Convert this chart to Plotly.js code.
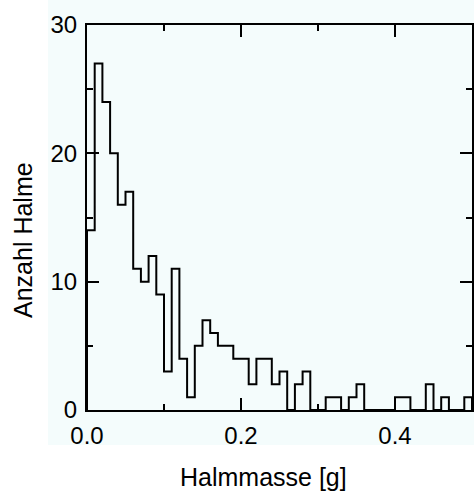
<!DOCTYPE html>
<html>
<head>
<meta charset="utf-8">
<script src="https://cdn.plot.ly/plotly-3.0.1.min.js"></script>
<style>html,body{margin:0;padding:0;background:#fff;}#chart{width:474px;height:491px;}</style>
</head>
<body>
<div id="chart"></div>
<script>
// Histogram of Halmmasse [g], bin width 0.01 g, from 0 to 0.5
const binStart = 0.0;
const binWidth = 0.01;
const counts = [14, 27, 24, 20, 16, 17, 11, 10, 12, 9,
                3, 11, 4, 1, 5, 7, 6, 5, 5, 4,
                4, 2, 4, 4, 2, 3, 0, 2, 3, 0,
                0, 1, 1, 0, 1, 2, 0, 0, 0, 0,
                1, 1, 0, 0, 2, 0, 1, 0, 0, 1];
const xTickVals = [0, 0.2, 0.4];
const xTickText = ["0.0", "0.2", "0.4"];
const yTickVals = [0, 10, 20, 30];
const yTickText = ["0", "10", "20", "30"];
const xTitle = "Halmmasse [g]";
const yTitle = "Anzahl Halme";

// build step outline from bin edges and counts
const xs = [binStart], ys = [0];
counts.forEach((c, i) => { xs.push(binStart + i * binWidth); ys.push(c); });
const lastEdge = binStart + counts.length * binWidth;
xs.push(lastEdge); ys.push(counts[counts.length - 1]);
xs.push(lastEdge); ys.push(0);

const font = "Liberation Sans, Arial, Helvetica, sans-serif";
const bg = "#f4fcfc";

const trace = {
  x: xs, y: ys, type: "scatter", mode: "lines",
  line: {shape: "hv", color: "#000", width: 2},
  hoverinfo: "skip", showlegend: false, cliponaxis: false
};

const axisCommon = {
  showline: true, linecolor: "#000", linewidth: 2, mirror: "allticks",
  ticks: "inside", ticklen: 12, tickwidth: 2, tickcolor: "#000",
  showgrid: false, zeroline: false,
  tickfont: {family: font, size: 24, color: "#000"}
};

const layout = {
  width: 474, height: 491,
  margin: {l: 87, r: 2, t: 25, b: 81},
  paper_bgcolor: "#ffffff", plot_bgcolor: bg,
  xaxis: Object.assign({}, axisCommon, {
    range: [0, 0.5], tickmode: "array", tickvals: xTickVals, ticktext: xTickText,
    minor: {dtick: 0.1, tick0: 0, ticks: "inside", ticklen: 6, tickwidth: 2, tickcolor: "#000"},
    ticklabelstandoff: 3
  }),
  yaxis: Object.assign({}, axisCommon, {
    range: [0, 30], tickmode: "array", tickvals: yTickVals, ticktext: yTickText,
    minor: {dtick: 5, tick0: 0, ticks: "inside", ticklen: 6, tickwidth: 2, tickcolor: "#000"},
    ticklabelstandoff: 3
  }),
  annotations: [
    {text: xTitle, xref: "paper", yref: "paper", x: 0.4584, y: -0.1753,
     xanchor: "center", yanchor: "middle", showarrow: false,
     font: {family: font, size: 25, color: "#000"}},
    {text: yTitle, xref: "paper", yref: "paper", x: -0.1662, y: 0.4416,
     xanchor: "center", yanchor: "middle", showarrow: false, textangle: -90,
     font: {family: font, size: 25, color: "#000"}}
  ],
  shapes: [{
    type: "rect", xref: "paper", yref: "paper", layer: "below",
    x0: -0.1013, x1: 1.01, y0: -0.0909, y1: 1.07,
    fillcolor: bg, line: {width: 0}
  }]
};

Plotly.newPlot("chart", [trace], layout, {displayModeBar: false, staticPlot: true});
</script>
</body>
</html>
